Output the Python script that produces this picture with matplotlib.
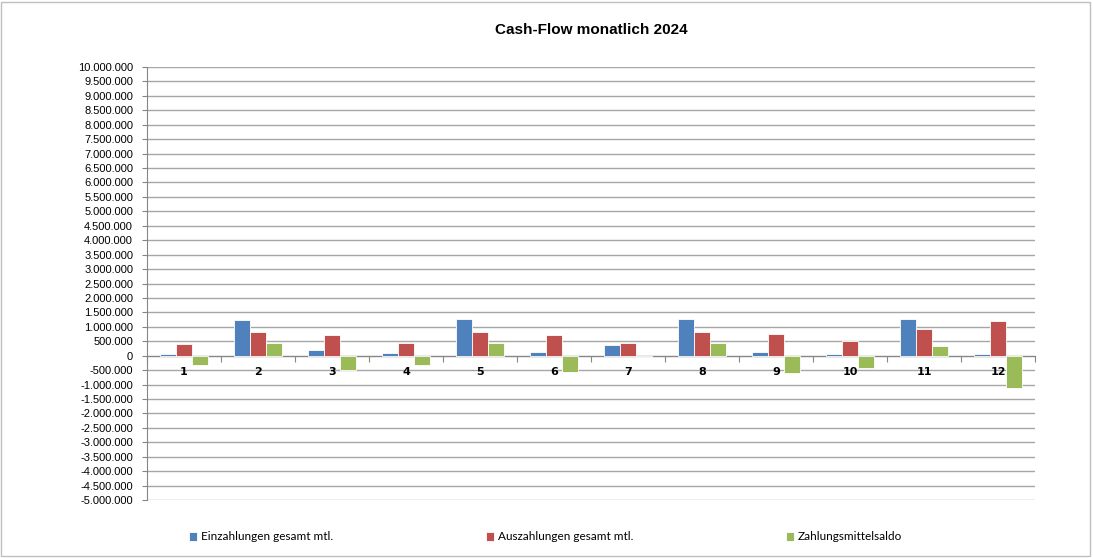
import matplotlib
matplotlib.use('Agg')
import matplotlib.pyplot as plt
from matplotlib.patches import Rectangle
from matplotlib.ticker import FuncFormatter
import numpy as np

# monthly values (EUR)
months = [1, 2, 3, 4, 5, 6, 7, 8, 9, 10, 11, 12]
einzahlungen = [57000, 1241000, 207000, 80000, 1264000, 138000, 368000, 1253000, 138000, 45000, 1253000, 46000]
auszahlungen = [400000, 828000, 713000, 425000, 816000, 713000, 437000, 828000, 736000, 506000, 920000, 1184000]
saldo = [-310000, 437000, -483000, -322000, 448000, -552000, -57000, 437000, -586000, -425000, 345000, -1103000]
series_names = ['Einzahlungen gesamt mtl.', 'Auszahlungen gesamt mtl.', 'Zahlungsmittelsaldo']
colors = ['#4F81BD', '#C0504D', '#9BBB59']

fig = plt.figure(figsize=(10.93, 5.58), dpi=100)
ax = fig.add_axes([147/1093, 1 - 500/558, (1035-147)/1093, (500-67)/558])

# chart area border
fig.patches.append(Rectangle((0.001, 0.003), 0.996, 0.994, transform=fig.transFigure,
                             fill=False, edgecolor='#BFBFBF', lw=1))

x = np.arange(len(months))
w = 0.22
for k, vals in enumerate([einzahlungen, auszahlungen, saldo]):
    ax.bar(x + (k-1)*w, vals, width=w, color=colors[k], edgecolor='white',
           linewidth=0.6, label=series_names[k], zorder=3)

ax.set_xlim(-0.5, len(months) - 0.5)
ax.set_ylim(-5000000, 10000000)
ax.set_yticks(np.arange(-5000000, 10000001, 500000))
ax.yaxis.set_major_formatter(FuncFormatter(lambda v, p: f'{int(v):,}'.replace(',', '.')))
ax.grid(axis='y', color='#A6A6A6', lw=1, zorder=0)
ax.tick_params(axis='y', length=3.6, color='#868686', labelsize=8, pad=6.4)
for lab in ax.get_yticklabels():
    lab.set_fontfamily('Liberation Sans')

# x axis at zero with ticks between categories
ax.spines['bottom'].set_position(('data', 0))
ax.spines['bottom'].set_color('#868686')
ax.spines['left'].set_color('#868686')
ax.spines['top'].set_visible(False)
ax.spines['right'].set_visible(False)
ax.set_xticks(np.arange(-0.5, len(months), 1))
ax.set_xticklabels([])
ax.tick_params(axis='x', length=4, color='#868686', direction='out')
for i, m in enumerate(months):
    ax.annotate(str(m), (i, 0), xytext=(0, -11.5), textcoords='offset points',
                ha='center', va='center', fontsize=8, fontweight='bold',
                family='DejaVu Sans')

ax.set_title('Cash-Flow monatlich 2024', fontsize=11, fontweight='bold',
             family='Liberation Sans', pad=24)

leg = fig.legend(loc='center left', bbox_to_anchor=(184/1093, 1 - 537/558, (907-184)/1093, 0.0),
                 ncol=3, mode='expand', frameon=False, prop={'family': 'Lato', 'size': 8.5},
                 handlelength=0.7, handleheight=0.7, handletextpad=0.3, borderaxespad=0)

fig.savefig('out.png', dpi=100)
